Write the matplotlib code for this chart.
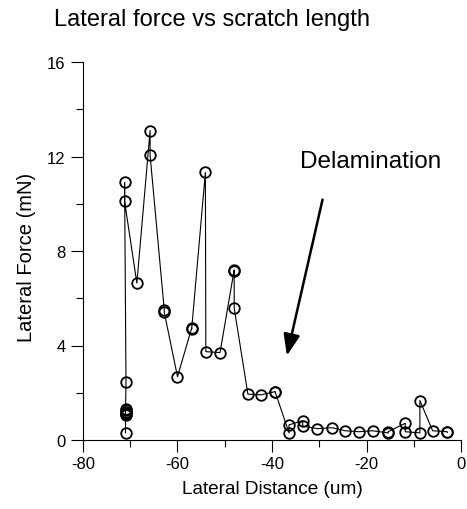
import matplotlib
matplotlib.use("Agg")
import matplotlib.pyplot as plt

plt.rcParams['font.family'] = ['Liberation Sans', 'DejaVu Sans']
plt.rcParams['axes.unicode_minus'] = False

# Lateral distance (um), in acquisition order
distance = [-71.0, -71.0, -71.0, -71.0, -71.0, -71.0, -71.0, -70.9, -71.2, -71.2,
            -68.6, -65.8, -65.8, -62.8, -62.8, -60.0, -57.0, -57.0, -54.1,
            -54.0, -51.0, -48.0, -48.0, -48.0, -45.1, -42.3, -39.3, -39.3,
            -36.4, -36.4, -33.5, -33.5, -30.4, -27.3, -24.5, -21.6, -18.7,
            -15.4, -15.4, -11.8, -11.8, -8.7, -8.7, -6.0, -2.9, -2.9]
# Lateral force (mN)
force = [0.30, 1.06, 1.10, 1.15, 1.20, 1.25, 1.30, 2.44, 10.9, 10.1,
         6.64, 13.1, 12.05, 5.5, 5.4, 2.68, 4.74, 4.70, 11.33,
         3.74, 3.70, 7.2, 7.17, 5.58, 1.94, 1.91, 2.05, 2.02,
         0.30, 0.64, 0.82, 0.59, 0.48, 0.52, 0.39, 0.35, 0.39,
         0.30, 0.35, 0.71, 0.35, 0.30, 1.67, 0.39, 0.35, 0.32]

x_ticks = [-80, -60, -40, -20, 0]
y_ticks = [0, 4, 8, 12, 16]

title = "Lateral force vs scratch length"
annotation = "Delamination"

fig = plt.figure(figsize=(4.67, 5.10), dpi=100)
ax = fig.add_axes([83/467, 69/510, 378/467, 378/510])

ax.plot(distance, force, color='black', lw=0.8, marker='o', ms=7.6,
        mfc='none', mec='black', mew=1.3, clip_on=False)

ax.set_xlim(-80, 0)
ax.set_ylim(0, 16)
ax.set_xticks(x_ticks)
ax.set_yticks(y_ticks)
ax.set_xticks([-70, -50, -30, -10], minor=True)
ax.set_yticks([2, 6, 10, 14], minor=True)
ax.tick_params(which='major', direction='out', length=8.5, width=0.8,
               labelsize=12, pad=3)
ax.tick_params(axis='y', which='major', pad=4)
ax.tick_params(which='minor', direction='out', length=5, width=0.8)
for s in ['top', 'right']:
    ax.spines[s].set_visible(False)
for s in ['left', 'bottom']:
    ax.spines[s].set_linewidth(0.8)

ax.set_xlabel("Lateral Distance (um)", fontsize=13.7)
ax.set_ylabel("Lateral Force (mN)", fontsize=14.5)
ax.xaxis.set_label_coords(0.5, -0.105)
ax.yaxis.set_label_coords(-0.125, 0.485)

fig.text(54/467, 1 - 20/510, title, fontsize=17, ha='left', va='center')

ax.text(-34.0, 11.57, annotation, fontsize=17.5, ha='left', va='baseline')
ax.annotate("", xy=(-36.85, 3.57), xytext=(-29.3, 10.18),
            arrowprops=dict(arrowstyle='-|>,head_length=1.3,head_width=0.5',
                            color='black', lw=1.8, shrinkA=0, shrinkB=0))

fig.savefig("out.png", dpi=100)
